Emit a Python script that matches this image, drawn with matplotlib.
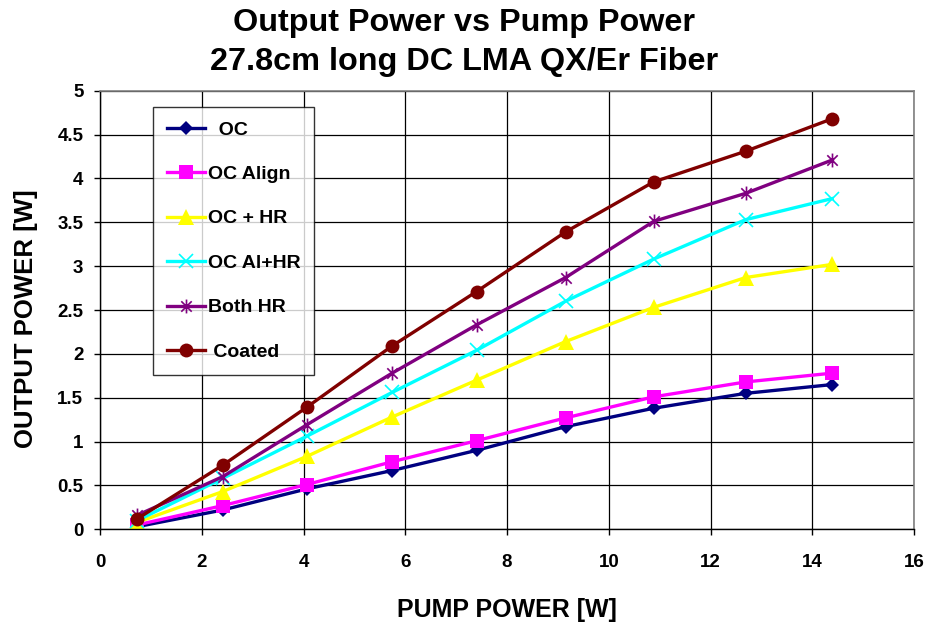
import matplotlib.pyplot as plt
from matplotlib.path import Path

plt.rcParams['font.family'] = ['Liberation Sans', 'DejaVu Sans']
plt.rcParams['font.weight'] = 'bold'

pump = [0.73, 2.41, 4.06, 5.74, 7.40, 9.15, 10.88, 12.69, 14.39]

oc = [0.03, 0.22, 0.46, 0.67, 0.90, 1.17, 1.38, 1.55, 1.65]
oc_align = [0.05, 0.27, 0.51, 0.77, 1.01, 1.27, 1.51, 1.68, 1.78]
oc_hr = [0.08, 0.43, 0.83, 1.28, 1.70, 2.14, 2.53, 2.87, 3.02]
oc_al_hr = [0.10, 0.58, 1.06, 1.56, 2.04, 2.60, 3.08, 3.53, 3.77]
both_hr = [0.16, 0.60, 1.19, 1.78, 2.33, 2.87, 3.51, 3.83, 4.21]
coated = [0.12, 0.73, 1.39, 2.09, 2.71, 3.39, 3.96, 4.31, 4.68]

labels = ["OC", "OC Align", "OC + HR", "OC Al+HR", "Both HR", "Coated"]
# excel pads the short names so they sit towards the middle of the box
legend_labels = ["  OC", "OC Align", "OC + HR", "OC Al+HR", "Both HR", " Coated"]
colors = ["#000080", "#FF00FF", "#FFFF00", "#00FFFF", "#800080", "#800000"]
x_ticks = [0, 2, 4, 6, 8, 10, 12, 14, 16]
y_ticks = [0, 0.5, 1, 1.5, 2, 2.5, 3, 3.5, 4, 4.5, 5]
y_tick_labels = ["0", "0.5", "1", "1.5", "2", "2.5", "3", "3.5", "4", "4.5", "5"]

# excel style asterisk: vertical bar plus an X
star = Path([(0, -1), (0, 1), (-0.75, -0.75), (0.75, 0.75), (-0.75, 0.75), (0.75, -0.75)],
            [Path.MOVETO, Path.LINETO, Path.MOVETO, Path.LINETO, Path.MOVETO, Path.LINETO])

styles = [
    dict(marker="D", markersize=7, markeredgewidth=0),
    dict(marker="s", markersize=10, markeredgewidth=0),
    dict(marker="^", markersize=11, markeredgewidth=0),
    dict(marker="x", markersize=10, markeredgewidth=1.2),
    dict(marker=star, markersize=10, markeredgewidth=1.2),
    dict(marker="o", markersize=10, markeredgewidth=0),
]

series = [oc, oc_align, oc_hr, oc_al_hr, both_hr, coated]

fig = plt.figure(figsize=(9.28, 6.29), dpi=100)
ax = fig.add_axes([0.1078, 0.1585, 0.8772, 0.6973])

for ys, lab, col, st in zip(series, legend_labels, colors, styles):
    ax.plot(pump, ys, color=col, linewidth=2.4, label=lab,
            markerfacecolor=col, markeredgecolor=col, **st)

ax.set_xlim(0, 16)
ax.set_ylim(0, 5)
ax.set_xticks(x_ticks)
ax.set_yticks(y_ticks)
ax.set_yticklabels(y_tick_labels)
ax.tick_params(axis='both', labelsize=13.5, direction='out', length=4, width=1, color='black')
ax.tick_params(axis='x', pad=14)
ax.tick_params(axis='y', pad=8)
ax.grid(True, color='black', linewidth=0.9)
ax.set_axisbelow(True)
for side in ['top', 'right']:
    ax.spines[side].set_color('#808080')
    ax.spines[side].set_linewidth(1.2)
for side in ['left', 'bottom']:
    ax.spines[side].set_color('black')
    ax.spines[side].set_linewidth(1)

ax.set_xlabel("PUMP POWER [W]", fontsize=18, fontweight='bold', va='center')
ax.xaxis.set_label_coords(0.5, -0.184)
ax.set_ylabel("OUTPUT POWER [W]", fontsize=18.5, fontweight='bold', va='center', ha='center')
ax.yaxis.set_label_coords(-0.0905, 0.4795)

fig.text(0.5, 0.964, "Output Power vs Pump Power", ha='center', va='center',
         fontsize=23.3, fontweight='bold')
fig.text(0.5, 0.902, "27.8cm long DC LMA QX/Er Fiber", ha='center', va='center',
         fontsize=23.3, fontweight='bold')

leg = ax.legend(loc='upper left', bbox_to_anchor=(0.0651, 0.963), fontsize=14,
                frameon=True, fancybox=False, edgecolor='black', labelspacing=1.38,
                handlelength=1.95, handletextpad=0.15, borderpad=0.72, borderaxespad=0)
leg.get_frame().set_linewidth(1)

fig.savefig("out.png", dpi=100, facecolor='white')
